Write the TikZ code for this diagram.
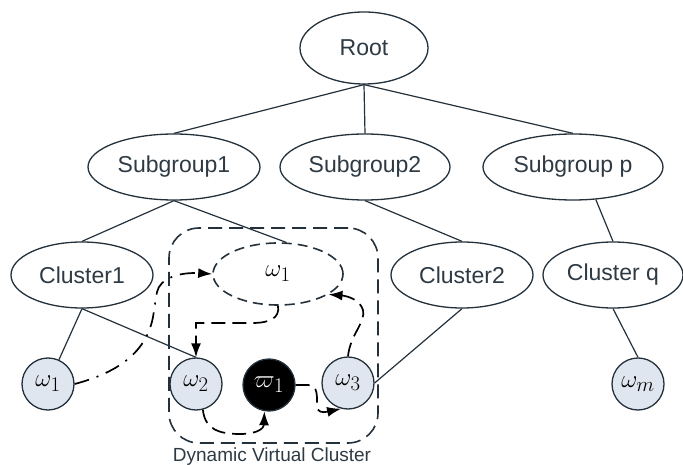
\documentclass[tikz,border=0pt]{standalone}
\usepackage{fontspec}
\setmainfont{Liberation Sans}
\usetikzlibrary{shapes.geometric,arrows.meta}
\definecolor{ink}{HTML}{24313B}
\definecolor{txt}{HTML}{2E3A44}
\definecolor{cfill}{HTML}{DFE6EF}
\begin{document}
\begin{tikzpicture}[x=1pt,y=-1pt,
  ell/.style={ellipse,draw=ink,line width=1.3pt,fill=white,inner sep=0pt,text=txt,font=\fontsize{23}{25}\selectfont},
  circ/.style={circle,draw=ink,line width=1.3pt,fill=cfill,minimum size=52pt,inner sep=0pt,font=\fontsize{29}{31}\selectfont},
  link/.style={draw=ink,line width=1.2pt},
  dsh/.style={draw=black,line width=1.7pt,dash pattern=on 14pt off 7pt},
  dshdot/.style={draw=black,line width=1.7pt,dash pattern=on 15pt off 8pt on 2pt off 8pt},
  arr/.style={-{Latex[length=14pt,width=10pt]}},
]
\useasboundingbox (0,0) rectangle (683,465);
% dynamic virtual cluster box
\node[draw=ink,line width=1.6pt,dash pattern=on 14pt off 7pt,rounded corners=30pt,
      minimum width=209pt,minimum height=215pt,inner sep=0pt] (dvc) at (273.5,335.5) {};
\node[font=\fontsize{19}{21}\selectfont,text=txt,inner sep=0pt] (dvclabel) at (272,457) {Dynamic Virtual Cluster};

% tree nodes
\node[ell,minimum width=128pt,minimum height=72pt] (root) at (364,48) {Root};
\node[ell,minimum width=172pt,minimum height=66pt] (sg1) at (174,167) {Subgroup1};
\node[ell,minimum width=170pt,minimum height=66pt] (sg2) at (365,167) {Subgroup2};
\node[ell,minimum width=180pt,minimum height=66pt] (sgp) at (573,167) {Subgroup p};
\node[ell,minimum width=142pt,minimum height=66pt] (c1) at (82,275) {Cluster1};
\node[ell,minimum width=142pt,minimum height=66pt] (c2) at (462,275) {Cluster2};
\node[ell,minimum width=140pt,minimum height=66pt] (cq) at (613,275) {Cluster q};
\node[ellipse,draw=ink,line width=1.6pt,dash pattern=on 10pt off 6pt,fill=none,inner sep=0pt,
      minimum width=130pt,minimum height=62pt,font=\fontsize{29}{31}\selectfont] (wq) at (278,274) {$\omega_1$};

\node[circ] (w1) at (48,384) {$\omega_1$};
\node[circ] (w2) at (196,384) {$\omega_2$};
\node[circ,fill=black,text=white] (b1) at (269,385) {$\varpi_1$};
\node[circ] (w3) at (348,383) {$\omega_3$};
\node[circ] (wm) at (638,384) {$\omega_m$};

% solid tree links
\draw[link] (root.south) -- (sg1.north);
\draw[link] (root.south) -- (sg2.north);
\draw[link] (root.south) -- (sgp.north);
\draw[link] (sg1.south) -- (c1.north);
\draw[link] (sg1.south) -- (wq.75);
\draw[link] (sg2.south) -- (c2.north);
\draw[link] (sgp.-55) -- (cq.north);
\draw[link] (c1.south) -- (w1);
\draw[link] (c1.south) -- (w2.north);
\draw[link] (c2.south) -- (w3.east);
\draw[link] (cq.south) -- (wm.north);

% dashed migration arrows
\draw[dshdot,arr] (w1.east) .. controls (120,372) and (150,350) .. (154,310) -- (157,292)
   .. controls (160,278) and (180,272) .. (wq.west);
\draw[dsh,arr] (wq.south) .. controls (280,318) and (270,323) .. (252,323) -- (196,323) -- (w2.north);
\draw[dsh,arr] (w2.-75) .. controls (205,430) and (220,434) .. (240,434)
   .. controls (258,434) and (264,428) .. (b1.-100);
\draw[dsh,arr] (b1.east) -- (308,385) .. controls (316,385) and (317,392) .. (317,400) -- (317,406)
   .. controls (317,412) and (322,413) .. (w3.-105);
\draw[dsh,arr] (w3.north) .. controls (350,335) and (366,322) .. (363,310)
   .. controls (360,300) and (348,296) .. (wq.-22);
\end{tikzpicture}
\end{document}
